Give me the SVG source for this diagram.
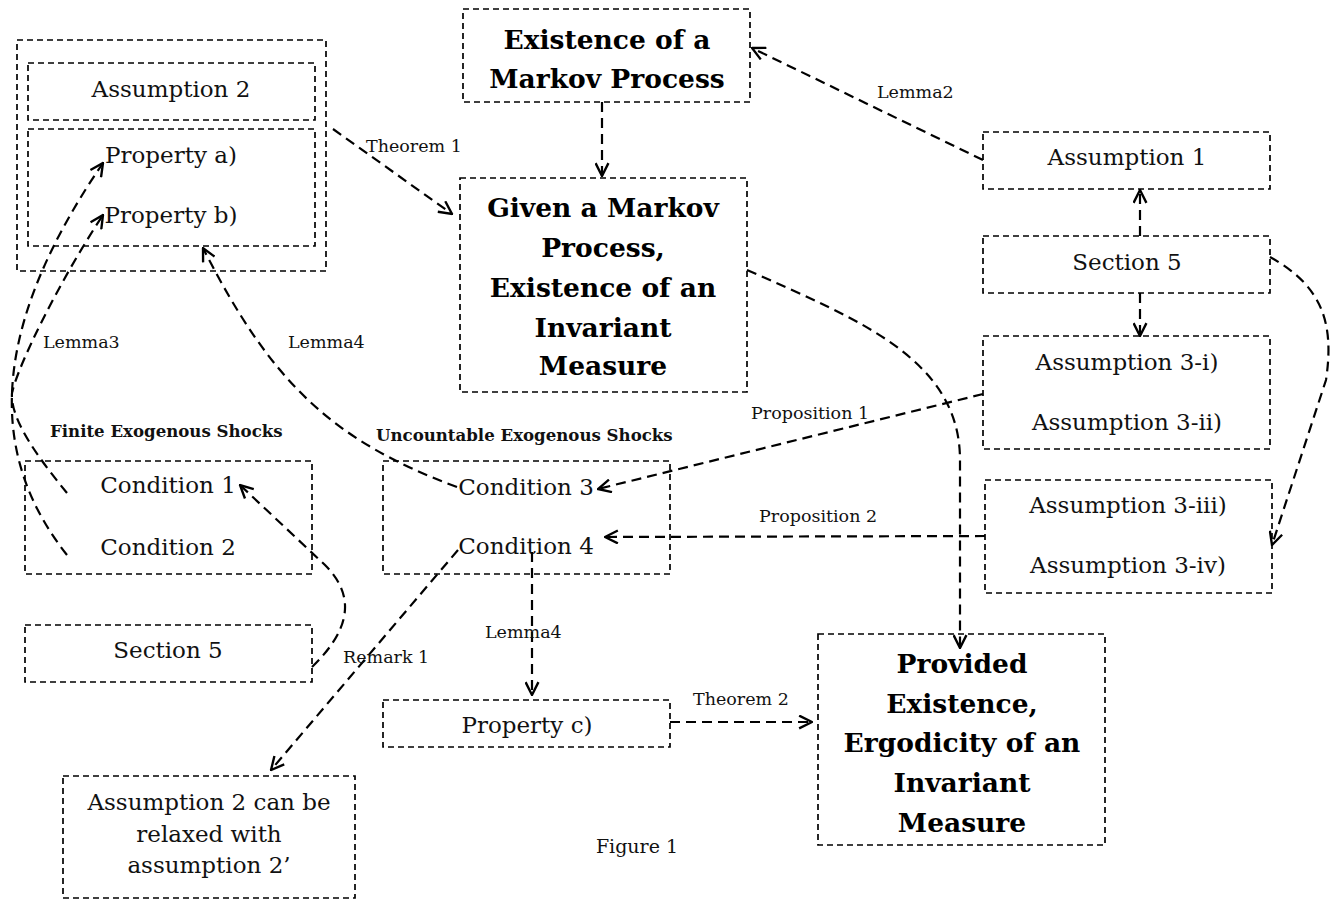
<svg xmlns="http://www.w3.org/2000/svg" width="1335" height="899" viewBox="0 0 1335 899">
<defs>
<marker id="arr" viewBox="0 0 14 14" refX="13" refY="7" markerWidth="15" markerHeight="15" orient="auto" markerUnits="userSpaceOnUse">
<path d="M1,1 L13,7 L1,13" fill="none" stroke="#000" stroke-width="2.2" stroke-dasharray="none"/>
</marker>
</defs>
<style>
.box{fill:none;stroke:#000;stroke-width:1.7;stroke-dasharray:6,4}
.t{font-family:"DejaVu Serif","Liberation Serif",serif;font-size:23px;fill:#111;text-anchor:middle}
.b{font-family:"DejaVu Serif","Liberation Serif",serif;font-size:26.5px;font-weight:bold;fill:#000;text-anchor:middle}
.h{font-family:"DejaVu Serif","Liberation Serif",serif;font-size:16.6px;font-weight:bold;fill:#111}
.l{font-family:"DejaVu Serif","Liberation Serif",serif;font-size:17.5px;fill:#111}
.cap{font-family:"DejaVu Serif","Liberation Serif",serif;font-size:19px;fill:#111;text-anchor:middle}
.c{fill:none;stroke:#000;stroke-width:2.2;stroke-dasharray:10,6;marker-end:url(#arr)}
</style>
<rect width="1335" height="899" fill="#fff"/>

<g id="group-left">
<rect class="box" x="17" y="40" width="309" height="231"/>
</g>
<g id="assumption2">
<rect class="box" x="28" y="63" width="287" height="57"/>
<text class="t" x="171" y="97">Assumption 2</text>
</g>
<g id="properties-ab">
<rect class="box" x="28" y="129" width="287" height="117"/>
<text class="t" x="171" y="163">Property a)</text>
<text class="t" x="171" y="223">Property b)</text>
</g>
<g id="existence-markov">
<rect class="box" x="463" y="9" width="287" height="93"/>
<text class="b" x="607" y="49">Existence of a</text>
<text class="b" x="607" y="88">Markov Process</text>
</g>
<g id="invariant-measure">
<rect class="box" x="460" y="178" width="287" height="214"/>
<text class="b" x="603" y="217">Given a Markov</text>
<text class="b" x="603" y="257">Process,</text>
<text class="b" x="603" y="297">Existence of an</text>
<text class="b" x="603" y="337">Invariant</text>
<text class="b" x="603" y="375">Measure</text>
</g>
<g id="assumption1">
<rect class="box" x="983" y="132" width="287" height="57"/>
<text class="t" x="1127" y="165">Assumption 1</text>
</g>
<g id="section5-right">
<rect class="box" x="983" y="236" width="287" height="57"/>
<text class="t" x="1127" y="270">Section 5</text>
</g>
<g id="assumption3-i-ii">
<rect class="box" x="983" y="336" width="287" height="113"/>
<text class="t" x="1127" y="370">Assumption 3-i)</text>
<text class="t" x="1127" y="430">Assumption 3-ii)</text>
</g>
<g id="assumption3-iii-iv">
<rect class="box" x="985" y="480" width="287" height="113"/>
<text class="t" x="1128" y="513">Assumption 3-iii)</text>
<text class="t" x="1128" y="573">Assumption 3-iv)</text>
</g>
<g id="finite-shocks">
<text class="h" x="50" y="437">Finite Exogenous Shocks</text>
<rect class="box" x="25" y="461" width="287" height="113"/>
<text class="t" x="168" y="493">Condition 1</text>
<text class="t" x="168" y="555">Condition 2</text>
</g>
<g id="section5-left">
<rect class="box" x="25" y="625" width="287" height="57"/>
<text class="t" x="168" y="658">Section 5</text>
</g>
<g id="uncountable-shocks">
<text class="h" x="376" y="441">Uncountable Exogenous Shocks</text>
<rect class="box" x="383" y="461" width="287" height="113"/>
<text class="t" x="526" y="495">Condition 3</text>
<text class="t" x="526" y="554">Condition 4</text>
</g>
<g id="property-c">
<rect class="box" x="383" y="700" width="287" height="47"/>
<text class="t" x="527" y="733">Property c)</text>
</g>
<g id="ergodicity">
<rect class="box" x="818" y="634" width="287" height="211"/>
<text class="b" x="962" y="673">Provided</text>
<text class="b" x="962" y="713">Existence,</text>
<text class="b" x="962" y="752">Ergodicity of an</text>
<text class="b" x="962" y="792">Invariant</text>
<text class="b" x="962" y="832">Measure</text>
</g>
<g id="assumption2-relaxed">
<rect class="box" x="63" y="776" width="292" height="122"/>
<text class="t" x="209" y="810">Assumption 2 can be</text>
<text class="t" x="209" y="842">relaxed with</text>
<text class="t" x="209" y="873">assumption 2’</text>
</g>
<g id="caption">
<text class="cap" x="637" y="853">Figure 1</text>
</g>

<g id="connectors">
<path class="c" d="M333,129 L452,214"/>
<path class="c" d="M602,102 L602,176"/>
<path class="c" d="M983,160 L752,48"/>
<path class="c" d="M1140,236 L1140,190"/>
<path class="c" d="M1140,293 L1140,336"/>
<path class="c" d="M1270,257 C1320,285 1335,320 1326,380 L1272,545"/>
<path class="c" d="M983,394 L598,489"/>
<path class="c" d="M985,536 L605,537"/>
<path class="c" d="M747,270 C860,320 960,360 960,460 L960,648"/>
<path class="c" d="M457,487 C330,440 270,380 203,248"/>
<path class="c" d="M67,555 C0,470 -25,350 103,163"/>
<path class="c" d="M67,493 C40,460 10,420 12,393 C18,365 60,280 103,215"/>
<path class="c" d="M312,667 C345,635 360,600 325,565 L240,485"/>
<path class="c" d="M458,550 L271,770"/>
<path class="c" d="M532,552 L532,695"/>
<path class="c" d="M670,722 L812,722"/>
<text class="l" x="366" y="152">Theorem 1</text>
<text class="l" x="877" y="98">Lemma2</text>
<text class="l" x="43" y="348">Lemma3</text>
<text class="l" x="288" y="348">Lemma4</text>
<text class="l" x="751" y="419">Proposition 1</text>
<text class="l" x="759" y="522">Proposition 2</text>
<text class="l" x="485" y="638">Lemma4</text>
<text class="l" x="343" y="663">Remark 1</text>
<text class="l" x="693" y="705">Theorem 2</text>
</g>
</svg>
